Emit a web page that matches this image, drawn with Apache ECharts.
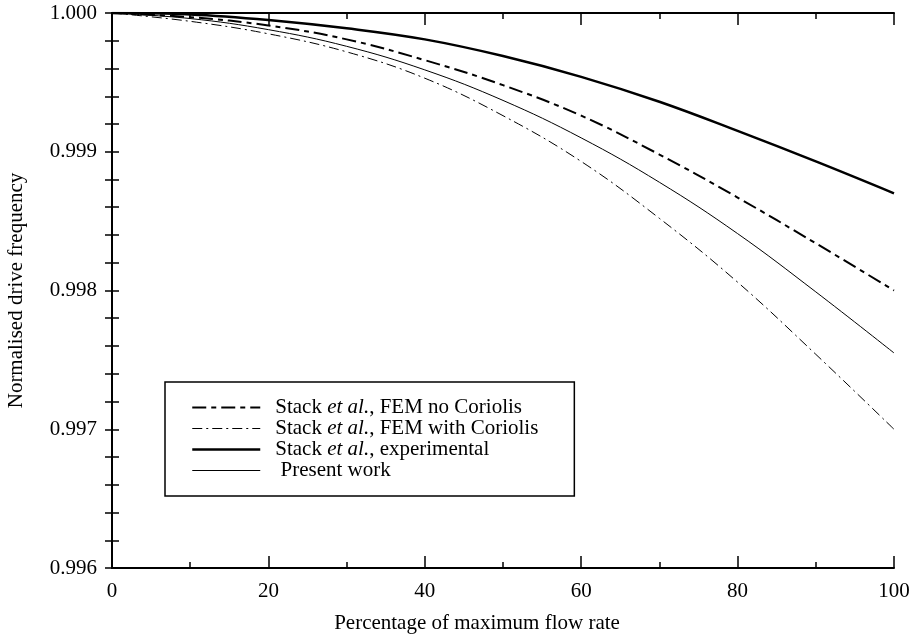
<!DOCTYPE html>
<html>
<head>
<meta charset="utf-8">
<script src="https://cdn.jsdelivr.net/npm/echarts@6/dist/echarts.min.js"></script>
<style>
  html, body { margin: 0; padding: 0; background: #fff; }
  #main { width: 917px; height: 634px; }
</style>
</head>
<body>
<div id="main"></div>
<script>
// flow rate (% of max)
const flowRate = [0, 10, 20, 30, 40, 50, 60, 70, 80, 90, 100];
const femNoCoriolis = [1.0, 0.99997, 0.99991, 0.99981, 0.99966, 0.99948, 0.99926, 0.99898, 0.99867, 0.99834, 0.99800];
const femWithCoriolis = [1.0, 0.99994, 0.99985, 0.99972, 0.99953, 0.99926, 0.99893, 0.99852, 0.99806, 0.99754, 0.99700];
const experimental = [1.0, 0.99999, 0.99995, 0.99989, 0.99981, 0.99969, 0.99954, 0.99936, 0.99915, 0.99893, 0.99870];
const presentWork = [1.0, 0.99996, 0.99988, 0.99976, 0.99959, 0.99937, 0.99910, 0.99878, 0.99841, 0.99799, 0.99755];
const seriesNames = ['FEM no Coriolis', 'FEM with Coriolis', 'experimental', 'Present work'];
const lineWidths = [2, 1, 2.5, 1];
const lineDashes = [[14, 5, 5, 5], [10, 4, 2, 4], 'solid', 'solid'];

const font = '"Liberation Serif", "DejaVu Serif", serif';
const pair = (ys) => flowRate.map((x, i) => [x, ys[i]]);

const chart = echarts.init(document.getElementById('main'));

const line = (i, ys) => ({
  name: seriesNames[i],
  type: 'line',
  data: pair(ys),
  smooth: 0.4,
  symbol: 'none',
  lineStyle: { color: '#000', width: lineWidths[i], type: lineDashes[i] },
  itemStyle: { color: '#000' }
});

const tickStyle = { color: '#000', width: 1.5 };

const option = {
  animation: false,
  backgroundColor: '#fff',
  textStyle: { fontFamily: font, color: '#000' },
  grid: { left: 112, right: 23, top: 13, bottom: 66, outerBoundsMode: 'none', containLabel: false },
  legend: {
    left: 165,
    top: 382,
    orient: 'vertical',
    data: seriesNames.map((n, i) => ({
      name: n,
      lineStyle: { color: '#000', width: lineWidths[i], type: lineDashes[i] }
    })),
    borderColor: '#000',
    borderWidth: 1.5,
    padding: [15, 36, 15, 26],
    itemWidth: 68,
    itemHeight: 14,
    itemGap: 0,
    selectedMode: false,
    itemStyle: { opacity: 0 },
    formatter: function (n) {
      if (n === 'Present work') return ' Present work';
      return 'Stack {i|et al.}, ' + n;
    },
    textStyle: {
      fontFamily: font, fontSize: 21, lineHeight: 20.7, color: '#000', padding: [0, 0, 0, 10],
      rich: { i: { fontFamily: font, fontSize: 21, lineHeight: 20.7, fontStyle: 'italic', color: '#000' } }
    }
  },
  xAxis: [{
    type: 'value', min: 0, max: 100, interval: 20,
    name: 'Percentage of maximum flow rate',
    nameLocation: 'middle', nameGap: 45,
    nameTextStyle: { fontFamily: font, fontSize: 21, color: '#000', padding: [0, 52, 0, 0] },
    axisLine: { lineStyle: { color: '#000', width: 2 } },
    axisTick: { inside: true, length: 12, lineStyle: tickStyle },
    minorTick: { show: true, splitNumber: 2, length: 6, lineStyle: tickStyle },
    axisLabel: { fontFamily: font, fontSize: 21, color: '#000', margin: 13 },
    splitLine: { show: false }
  }, {
    type: 'value', min: 0, max: 100, interval: 20, position: 'top',
    axisLine: { show: true, lineStyle: { color: '#000', width: 2 } },
    axisTick: { inside: true, length: 12, lineStyle: tickStyle },
    minorTick: { show: true, splitNumber: 2, length: 6, lineStyle: tickStyle },
    axisLabel: { show: false },
    splitLine: { show: false }
  }],
  yAxis: [{
    type: 'value', min: 0.996, max: 1.0, interval: 0.001,
    name: 'Normalised drive frequency',
    nameLocation: 'middle', nameGap: 85,
    nameTextStyle: { fontFamily: font, fontSize: 21, color: '#000' },
    axisLine: { lineStyle: { color: '#000', width: 2 } },
    axisTick: { inside: true, length: 7, lineStyle: tickStyle },
    minorTick: { show: true, splitNumber: 5, length: 7, lineStyle: tickStyle },
    axisLabel: { fontFamily: font, fontSize: 21, color: '#000', margin: 15,
      formatter: (v) => v.toFixed(3) },
    splitLine: { show: false }
  }, {
    type: 'value', min: 0.996, max: 1.0, interval: 0.001, position: 'right',
    axisLine: { show: true, lineStyle: { color: '#000', width: 2 } },
    axisTick: { inside: true, length: 7, lineStyle: tickStyle },
    minorTick: { show: true, splitNumber: 5, length: 7, lineStyle: tickStyle },
    axisLabel: { show: false },
    splitLine: { show: false }
  }],
  series: [
    line(0, femNoCoriolis),
    line(1, femWithCoriolis),
    line(2, experimental),
    line(3, presentWork)
  ]
};

chart.setOption(option);
</script>
</body>
</html>
